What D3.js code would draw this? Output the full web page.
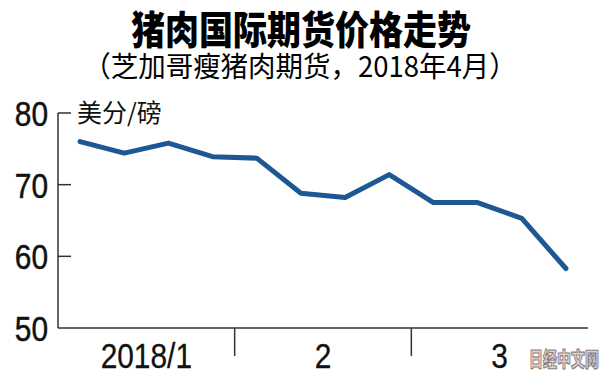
<!DOCTYPE html>
<html>
<head>
<meta charset="utf-8">
<script src="https://cdn.jsdelivr.net/npm/d3@7.9.0/dist/d3.min.js"></script>
<style>
  body { margin: 0; background: #fff; }
  svg { display: block; }
  .cjk { font-family: "Noto Sans CJK SC", "Noto Sans", sans-serif; }
  .num { font-family: "Liberation Sans", Arial, sans-serif; }
</style>
</head>
<body>
<svg id="chart" width="600" height="375"></svg>
<script>
// weekly quotes, Jan - Mar 2018
const weeks = ['1/5', '1/12', '1/19', '1/26', '2/2', '2/9', '2/16', '2/23', '3/2', '3/9', '3/16', '3/23'];
const prices = [76.0, 74.4, 75.8, 73.9, 73.7, 68.8, 68.2, 71.4, 67.5, 67.5, 65.3, 58.3];
const months = ['2018/1', '2', '3'];
const yTicks = [50, 60, 70, 80];

const svg = d3.select('#chart');
const plotLeft = 58, plotRight = 588, plotTop = 113, plotBottom = 328;
const squeeze = 0.83; // digits in the original are a condensed face

const x = d3.scalePoint().domain(weeks).range([plotLeft, plotRight]).padding(0.5);
const xMonth = d3.scaleBand().domain(months).range([plotLeft, plotRight]);
const y = d3.scaleLinear().domain([50, 80]).range([plotBottom, plotTop]);

// title (the original face is tall and narrow)
svg.append('text')
    .attr('class', 'cjk')
    .attr('transform', 'translate(301,44) scale(1,1.13)')
    .attr('text-anchor', 'middle')
    .attr('font-size', 34)
    .attr('font-weight', 900)
    .text('猪肉国际期货价格走势');

svg.append('text')
    .attr('class', 'cjk')
    .attr('transform', 'translate(300,77) scale(1,1.05)')
    .attr('text-anchor', 'middle')
    .attr('font-size', 27.5)
    .text('（芝加哥瘦猪肉期货，2018年4月）');

// y axis
const axisColor = '#333';
svg.append('line')
    .attr('x1', plotLeft).attr('x2', plotLeft)
    .attr('y1', y(80)).attr('y2', y(50))
    .attr('stroke', axisColor).attr('stroke-width', 1.5);

svg.selectAll('.ytick')
    .data(yTicks.filter((d) => d > 50))
    .enter()
    .append('line')
    .attr('x1', plotLeft).attr('x2', plotLeft + 13)
    .attr('y1', (d) => y(d)).attr('y2', (d) => y(d))
    .attr('stroke', axisColor).attr('stroke-width', 1.5);

svg.selectAll('.ylabel')
    .data(yTicks)
    .enter()
    .append('text')
    .attr('class', 'num')
    .attr('transform', (d) => `translate(48,${y(d) + 13}) scale(${squeeze},1)`)
    .attr('text-anchor', 'end')
    .attr('font-size', 36)
    .attr('fill', '#111')
    .attr('stroke', '#111')
    .attr('stroke-width', 0.5)
    .text((d) => d);

svg.append('text')
    .attr('class', 'cjk')
    .attr('x', 77)
    .attr('y', 122)
    .attr('font-size', 25)
    .attr('fill', '#111')
    .text('美分/磅');

// x axis
svg.append('line')
    .attr('x1', plotLeft).attr('x2', plotRight)
    .attr('y1', plotBottom).attr('y2', plotBottom)
    .attr('stroke', axisColor).attr('stroke-width', 1.5);

svg.selectAll('.mtick')
    .data(months.slice(1))
    .enter()
    .append('line')
    .attr('x1', (d) => xMonth(d)).attr('x2', (d) => xMonth(d))
    .attr('y1', plotBottom).attr('y2', plotBottom + 28)
    .attr('stroke', axisColor).attr('stroke-width', 1.5);

svg.selectAll('.mlabel')
    .data(months)
    .enter()
    .append('text')
    .attr('class', 'num')
    .attr('transform', (d) => `translate(${xMonth(d) + xMonth.bandwidth() / 2},368) scale(${squeeze},1)`)
    .attr('text-anchor', 'middle')
    .attr('font-size', 36)
    .attr('fill', '#111')
    .attr('stroke', '#111')
    .attr('stroke-width', 0.3)
    .text((d) => d);

// price line
const line = d3.line()
    .x((d, i) => x(weeks[i]))
    .y((d) => y(d));

svg.append('path')
    .datum(prices)
    .attr('d', line)
    .attr('fill', 'none')
    .attr('stroke', '#1d5894')
    .attr('stroke-width', 5)
    .attr('stroke-linejoin', 'round')
    .attr('stroke-linecap', 'round');

// watermark
svg.append('text')
    .attr('class', 'cjk')
    .attr('transform', 'translate(564,367) scale(1,1.45)')
    .attr('text-anchor', 'middle')
    .attr('font-size', 14)
    .attr('font-weight', 900)
    .attr('fill', '#e2d4d4')
    .attr('stroke', '#8c7c7c')
    .attr('stroke-width', 0.8)
    .text('日经中文网');
</script>
</body>
</html>
